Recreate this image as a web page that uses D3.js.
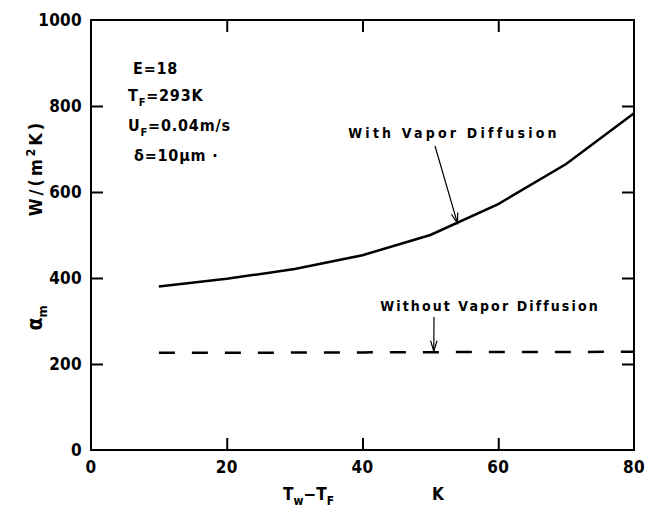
<!DOCTYPE html>
<html><head><meta charset="utf-8">
<script src="https://cdn.jsdelivr.net/npm/d3@7"></script>
<style>
body{margin:0;background:#fff;}
svg text{font-family:"DejaVu Sans Condensed","Liberation Sans Narrow",sans-serif;font-weight:bold;fill:#000;}
</style></head><body>
<svg id="c" width="646" height="511"></svg>
<script>
const tempDiff = [10, 20, 30, 40, 50, 60, 70, 80];
const withVapor = [380, 398, 421, 453, 500, 572, 665, 783];
const withoutVapor = [226, 226, 226.5, 227, 227.5, 228, 228, 228.5];
const xTicks = [0, 20, 40, 60, 80];
const yTicks = [0, 200, 400, 600, 800, 1000];

const svg = d3.select("#c");
const L = 91, R = 634, T = 20, B = 450;
const x = d3.scaleLinear().domain([0, 80]).range([L, R]);
const y = d3.scaleLinear().domain([0, 1000]).range([B, T]);
const tl = 12;

// frame
svg.append("rect").attr("x", L).attr("y", T).attr("width", R - L).attr("height", B - T)
  .attr("fill", "none").attr("stroke", "#000").attr("stroke-width", 2);

// axes with inward ticks
const gB = svg.append("g").attr("transform", `translate(0,${B})`)
  .call(d3.axisTop(x).tickValues([20, 40, 60]).tickSize(tl).tickFormat(""));
const gT = svg.append("g").attr("transform", `translate(0,${T})`)
  .call(d3.axisBottom(x).tickValues([20, 40, 60]).tickSize(tl).tickFormat(""));
const gL = svg.append("g").attr("transform", `translate(${L},0)`)
  .call(d3.axisRight(y).tickValues([200, 400, 600, 800]).tickSize(tl).tickFormat(""));
const gR = svg.append("g").attr("transform", `translate(${R},0)`)
  .call(d3.axisLeft(y).tickValues([200, 400, 600, 800]).tickSize(tl).tickFormat(""));
[gB, gT, gL, gR].forEach(g => {
  g.select(".domain").remove();
  g.selectAll("line").attr("stroke", "#000").attr("stroke-width", 2);
});

// tick labels
svg.append("g").selectAll("text").data(yTicks).join("text")
  .attr("x", 82).attr("y", d => y(d) + 6).attr("text-anchor", "end")
  .style("font-size", "17px").style("letter-spacing", "0.3px").text(d => d);
svg.append("g").selectAll("text").data(xTicks).join("text")
  .attr("x", d => x(d)).attr("y", 473).attr("text-anchor", "middle")
  .style("font-size", "17px").style("letter-spacing", "0.3px").text(d => d);

// axis titles
const xt = svg.append("text").attr("x", 283).attr("y", 500).style("font-size", "17px");
xt.append("tspan").text("T");
xt.append("tspan").attr("dy", 5).style("font-size", "12px").text("w");
xt.append("tspan").attr("dy", -5).text("−T");
xt.append("tspan").attr("dy", 5).style("font-size", "12px").text("F");
svg.append("text").attr("x", 438).attr("y", 500).attr("text-anchor", "middle").style("font-size", "17px").text("K");

const yt1 = svg.append("text").attr("transform", "translate(42,318) rotate(-90)")
  .attr("text-anchor", "middle").style("font-size", "21px");
yt1.append("tspan").text("α");
yt1.append("tspan").attr("dy", 5).style("font-size", "13px").text("m");
const yt2 = svg.append("text").attr("transform", "translate(42,168) rotate(-90)")
  .attr("text-anchor", "middle").style("font-size", "18px").style("letter-spacing", "3px");
yt2.append("tspan").text("W/(m");
yt2.append("tspan").attr("dy", -7).style("font-size", "12px").text("2");
yt2.append("tspan").attr("dy", 7).text("K)");

// lines
const line = d3.line().x((d, i) => x(tempDiff[i])).y(d => y(d));
svg.append("path").datum(withVapor).attr("d", line)
  .attr("fill", "none").attr("stroke", "#000").attr("stroke-width", 2.5);
svg.append("path").datum(withoutVapor).attr("d", line)
  .attr("fill", "none").attr("stroke", "#000").attr("stroke-width", 2.5)
  .attr("stroke-dasharray", "16,17");

// parameter annotations
const ann = svg.append("g").style("font-size", "16px").style("letter-spacing", "0.8px");
ann.append("text").attr("x", 133).attr("y", 74).text("E=18");
const a2 = ann.append("text").attr("x", 128).attr("y", 101);
a2.append("tspan").text("T"); a2.append("tspan").attr("dy", 5).style("font-size", "11px").text("F");
a2.append("tspan").attr("dy", -5).text("=293K");
const a3 = ann.append("text").attr("x", 128).attr("y", 131);
a3.append("tspan").text("U"); a3.append("tspan").attr("dy", 5).style("font-size", "11px").text("F");
a3.append("tspan").attr("dy", -5).text("=0.04m/s");
ann.append("text").attr("x", 134).attr("y", 161).text("δ=10μm ·");

// series labels + arrows
svg.append("text").attr("x", 454).attr("y", 138).attr("text-anchor", "middle")
  .style("font-size", "14px").style("letter-spacing", "3.2px").text("With Vapor Diffusion");
svg.append("text").attr("x", 490).attr("y", 311).attr("text-anchor", "middle")
  .style("font-size", "14px").style("letter-spacing", "2.1px").text("Without Vapor Diffusion");

function arrow(x1, y1, x2, y2) {
  svg.append("line").attr("x1", x1).attr("y1", y1).attr("x2", x2).attr("y2", y2)
    .attr("stroke", "#000").attr("stroke-width", 1.2);
  const a = Math.atan2(y2 - y1, x2 - x1), h = 11, w = 0.3;
  svg.append("path").attr("d",
    `M${x2 - h * Math.cos(a - w)},${y2 - h * Math.sin(a - w)} L${x2},${y2} L${x2 - h * Math.cos(a + w)},${y2 - h * Math.sin(a + w)}`)
    .attr("fill", "none").attr("stroke", "#000").attr("stroke-width", 1.2);
}
arrow(435, 146, x(54), y(527));
arrow(434, 317, x(50.5), y(227.5) - 1);
</script></body></html>
